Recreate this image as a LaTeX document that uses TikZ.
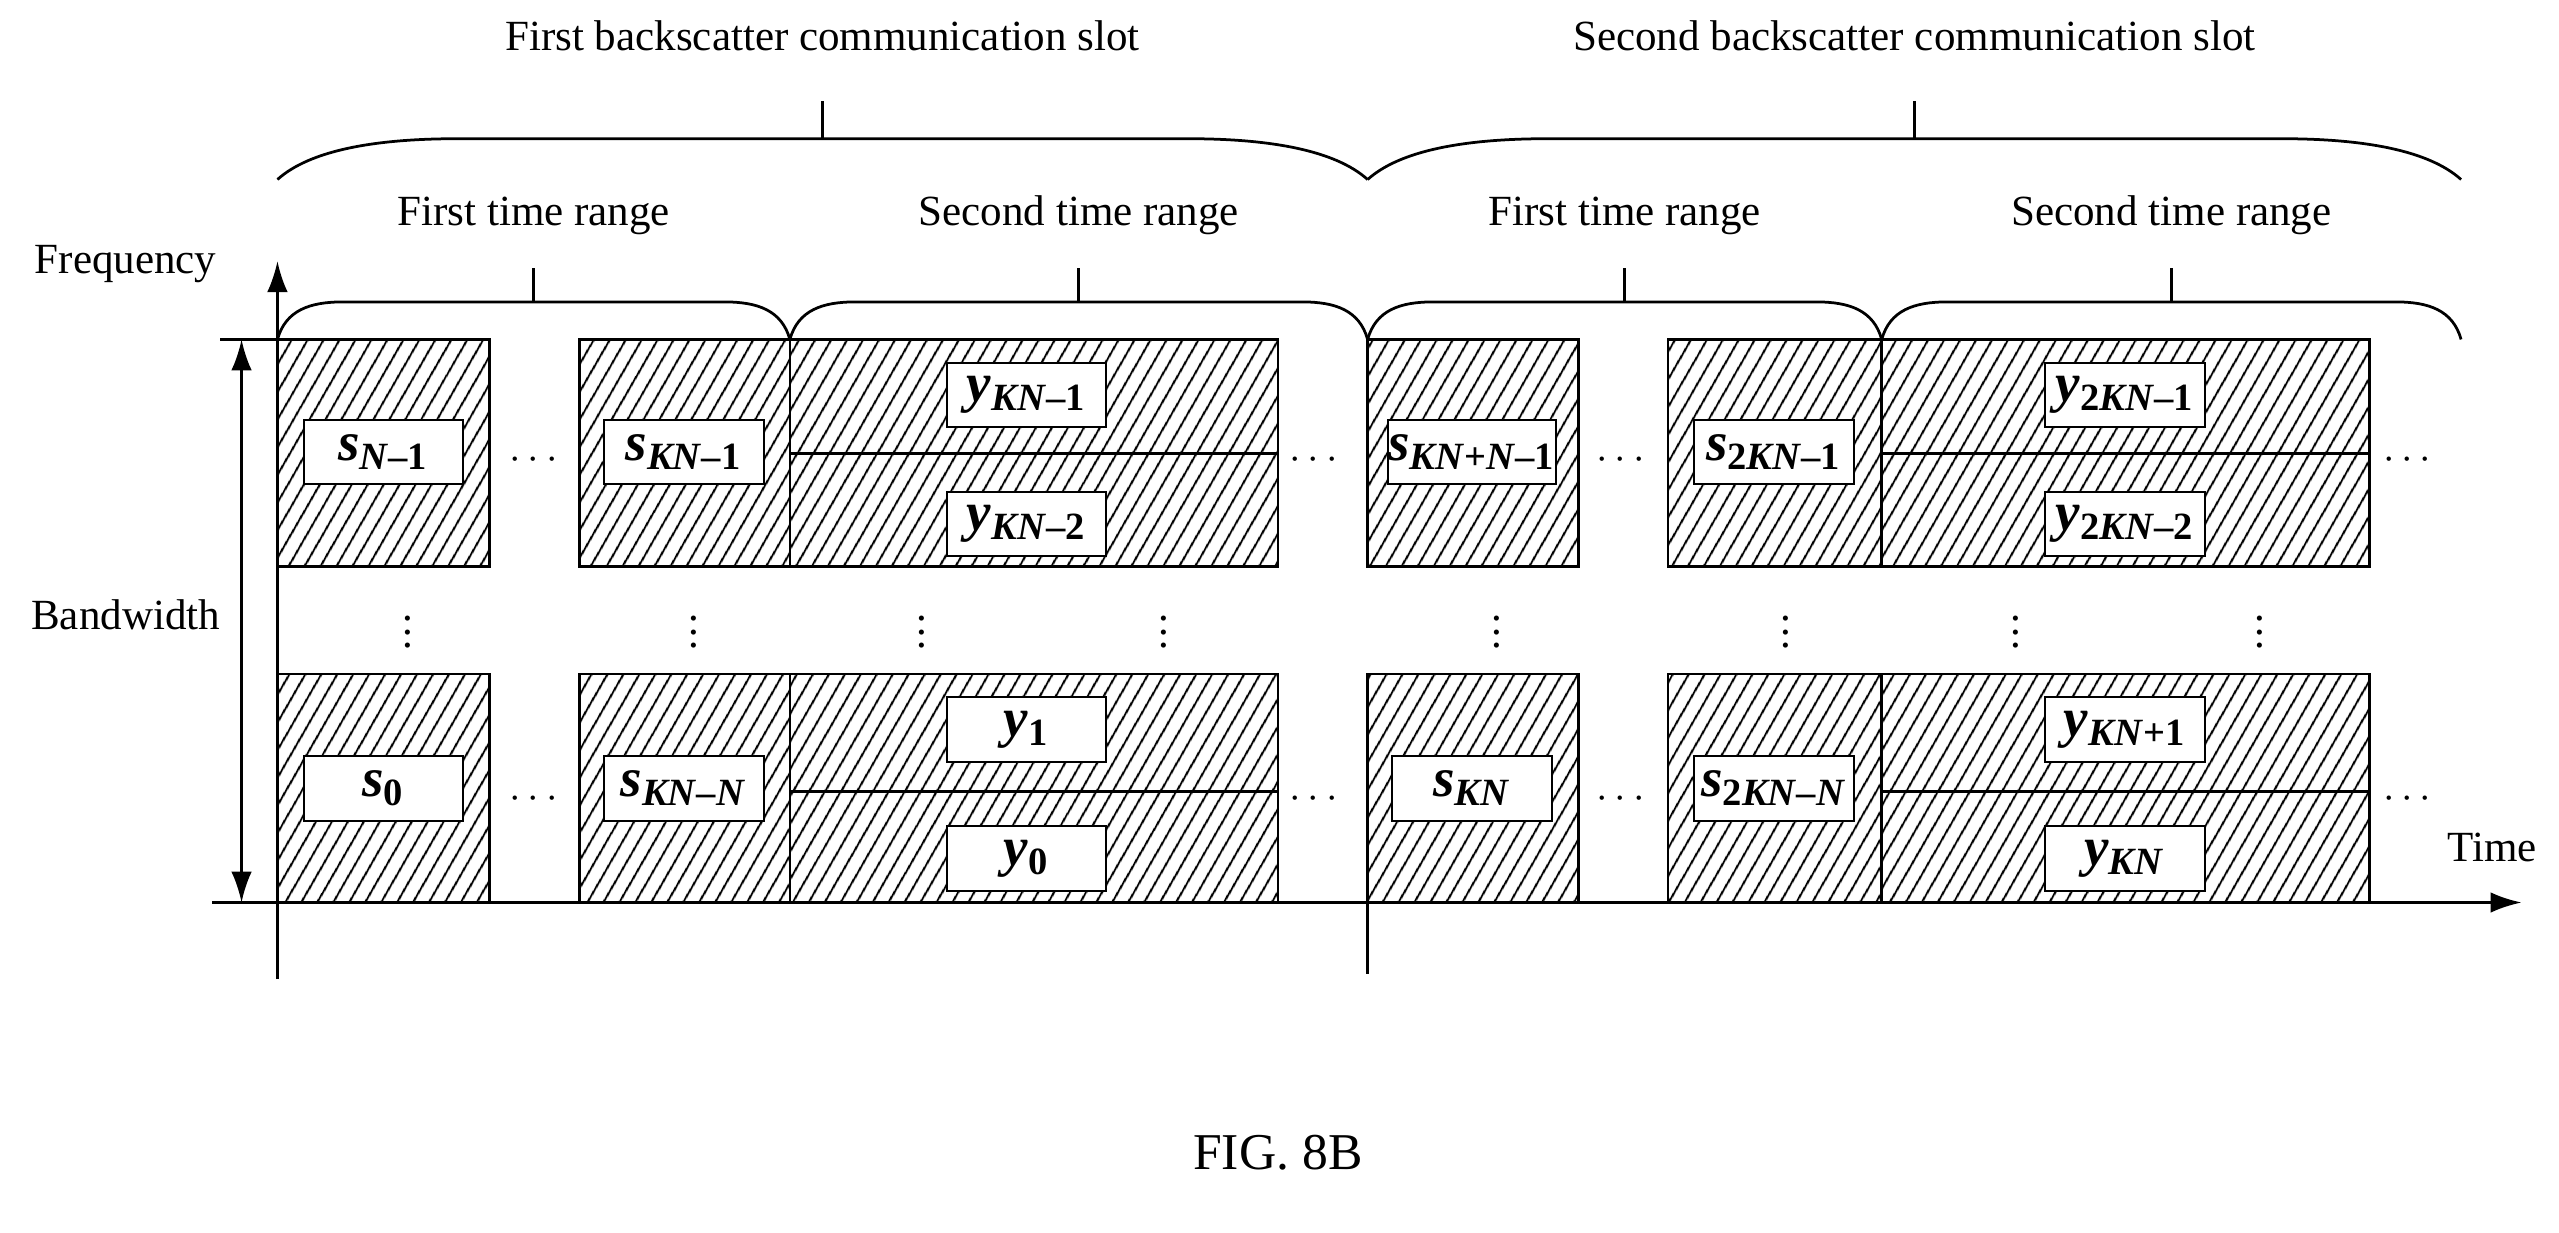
\documentclass[tikz,border=0pt]{standalone}
\usepackage{fontspec}
\setmainfont{Liberation Serif}
\usetikzlibrary{patterns.meta,arrows.meta}
\newcommand{\lb}[2]{\textbf{\textit{#1}\textsubscript{#2}}}

\begin{document}
\begin{tikzpicture}[x=0.016667cm,y=-0.016667cm,
  font=\fontsize{12.5}{14}\selectfont,
  blk/.style={draw, thick, pattern={Lines[angle=60,distance=4pt,line width=0.6pt]}},
  lbl/.style={draw, semithick, fill=white, minimum width=1.63cm, minimum height=0.66cm, inner sep=0pt, font=\fontsize{16}{18}\selectfont},
  brc/.style={thick}]
\useasboundingbox (0,0) rectangle (1568,755);

% axes
\draw[thick,-{Latex[length=9pt,width=6pt]}] (130,553) -- (1545,553);
\draw[thick,-{Latex[length=9pt,width=6pt]}] (170,600) -- (170,160);
\draw[thick] (838,553) -- (838,597);
\draw[thick,{Latex[length=9pt,width=6pt]}-{Latex[length=9pt,width=6pt]}] (148,208) -- (148,553);
\draw[thick] (135,208) -- (170,208);
\node at (77,377) {Bandwidth};
\node at (77,162) {Frequency};
\node at (1527,519) {Time};

% blocks
\foreach \xa/\xb in {170/300, 355/484, 838/967, 1022/1153} {
  \draw[blk] (\xa,208) rectangle (\xb,347);
  \draw[blk] (\xa,413) rectangle (\xb,553);
}
\foreach \xa/\xb in {484/783, 1153/1452} {
  \draw[blk] (\xa,208) rectangle (\xb,278);
  \draw[blk] (\xa,278) rectangle (\xb,347);
  \draw[blk] (\xa,413) rectangle (\xb,485);
  \draw[blk] (\xa,485) rectangle (\xb,553);
}

% labels
\node[lbl] (sa) at (235,277) {\lb{s}{\textit{N}–1}};
\node[lbl] (sb) at (419,277) {\lb{s}{\textit{KN}–1}};
\node[lbl] (sc) at (235,483) {\lb{s}{0}};
\node[lbl] (sd) at (419,483) {\lb{s}{\textit{KN}–\textit{N}}};
\node[lbl] (ya) at (629,242) {\lb{y}{\textit{KN}–1}};
\node[lbl] (yb) at (629,321) {\lb{y}{\textit{KN}–2}};
\node[lbl] (yc) at (629,447) {\lb{y}{1}};
\node[lbl] (yd) at (629,526) {\lb{y}{0}};
\node[lbl] (se) at (902,277) {\lb{s}{\textit{KN}+\textit{N}–1}};
\node[lbl] (sf) at (1087,277) {\lb{s}{2\textit{KN}–1}};
\node[lbl] (sg) at (902,483) {\lb{s}{\textit{KN}}};
\node[lbl] (sh) at (1087,483) {\lb{s}{2\textit{KN}–\textit{N}}};
\node[lbl] (ye) at (1302,242) {\lb{y}{2\textit{KN}–1}};
\node[lbl] (yf) at (1302,321) {\lb{y}{2\textit{KN}–2}};
\node[lbl] (yg) at (1302,447) {\lb{y}{\textit{KN}+1}};
\node[lbl] (yh) at (1302,526) {\lb{y}{\textit{KN}}};

% dots
\foreach \x in {327,805,993,1475} {
  \node at (\x,282) {$\cdots$};
  \node at (\x,490) {$\cdots$};
}
\foreach \x in {250,425,565,713,917,1094,1235,1385}
  \node at (\x,381) {$\vdots$};

% small braces
\foreach \xa/\xb/\t in {170/484/First time range, 484/838/Second time range,
                        838/1153/First time range, 1153/1508/Second time range} {
  \draw[brc] (\xa,208) .. controls (\xa+5,190) and (\xa+20,185) .. (\xa+40,185)
    -- (\xb-40,185) .. controls (\xb-20,185) and (\xb-5,190) .. (\xb,208);
  \draw[brc] ({(\xa+\xb)/2},185) -- ({(\xa+\xb)/2},164);
  \node at ({(\xa+\xb)/2},132) {\t};
}
% big braces
\foreach \xa/\xb/\t in {170/838/First backscatter communication slot,
                        838/1508/Second backscatter communication slot} {
  \draw[brc] (\xa,110) .. controls (\xa+20,92) and (\xa+60,85) .. (\xa+110,85)
    -- (\xb-110,85) .. controls (\xb-60,85) and (\xb-20,92) .. (\xb,110);
  \draw[brc] ({(\xa+\xb)/2},85) -- ({(\xa+\xb)/2},62);
  \node at ({(\xa+\xb)/2},22) {\t};
}

\node at (783,706) {\fontsize{15}{17}\selectfont FIG. 8B};
\end{tikzpicture}
\end{document}
